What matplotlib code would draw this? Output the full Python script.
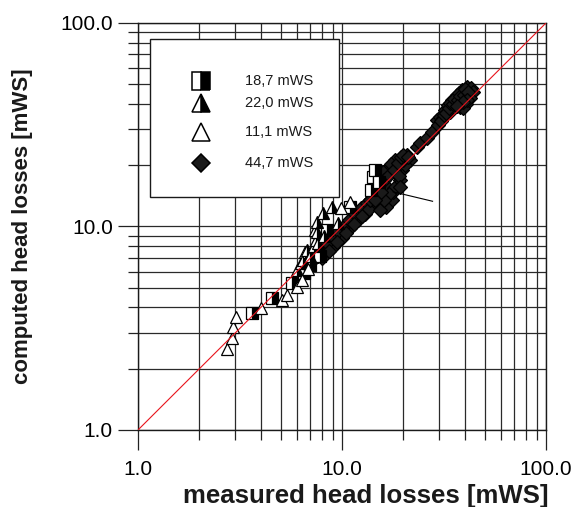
import numpy as np
import matplotlib
matplotlib.use('Agg')
import matplotlib.pyplot as plt
from matplotlib.ticker import FixedLocator, FixedFormatter, NullFormatter
from matplotlib.patches import Rectangle

plt.rcParams['font.family'] = ['Liberation Sans', 'DejaVu Sans']

# series: measured (x) vs computed (y) head losses [mWS]
sq_x = [3.62, 4.54, 5.69, 6.5, 7.0, 7.8, 8.4, 10.9, 13.9, 14.2, 14.5, 15.2]
sq_y = [3.76, 4.45, 5.28, 5.9, 6.5, 7.2, 9.6, 12.5, 15.1, 17.5, 18.9, 16.5]

tri_half_x = [6.0, 6.3, 6.6, 7.0, 7.3, 7.4, 7.5, 7.55, 8.1, 8.93, 8.2, 9.6,
              6.44, 6.7, 7.6, 7.55]
tri_half_y = [6.1, 6.6, 7.5, 7.2, 8.0, 9.6, 8.6, 10.5, 11.7, 12.5, 9.0, 10.4,
              6.85, 7.7, 8.3, 9.4]

tri_open_x = [2.73, 2.89, 2.92, 3.02, 4.01, 5.08, 5.37, 6.0, 6.35, 6.8, 10.9, 9.9]
tri_open_y = [2.50, 2.83, 3.21, 3.59, 3.98, 4.35, 4.6, 5.04, 5.45, 6.2, 13.2, 12.3]

dia_x = [6.6, 7.0, 7.3, 7.6, 7.9, 8.2, 8.5, 8.8, 9.1, 9.4, 9.7, 10.0,
         10.3, 10.6, 11.0, 11.4, 11.8, 12.2, 12.6, 13.0, 13.4, 13.8, 14.2, 14.6,
         8.0, 9.0, 10.0, 11.0, 12.0, 13.0,
         7.2, 7.8, 8.4, 9.0, 9.6, 10.2, 10.8, 11.6, 12.4, 13.2,
         8.6, 9.5, 10.5, 11.5, 12.5, 13.5, 14.5,
         15.3, 16.8, 18.2, 20.8, 16.2, 15.0, 17.6, 16.4, 15.3, 13.7, 19.2, 19.7,
         21.6, 20.3, 18.8, 17.8, 19.9,
         14.0, 14.8, 15.8, 16.0, 17.0, 17.3, 18.0, 18.8, 19.5, 20.0, 21.0, 19.0,
         18.0, 17.0, 16.0, 15.5, 14.5, 19.3,
         23.2, 24.1, 26.1, 27.6,
         29.2, 30.1, 32.0, 33.0, 34.5, 36.5, 38.8, 41.0, 42.9, 43.9, 42.4, 40.6,
         37.9, 35.8, 33.8, 31.2, 39.0,
         29.5, 30.5, 31.5, 32.5, 33.5, 34.0, 35.0, 35.5, 37.0, 37.5, 38.0, 39.5,
         40.0, 41.5, 41.0, 39.0, 36.5]
dia_y = [6.3, 6.6, 7.0, 7.2, 7.5, 7.8, 8.1, 8.3, 8.6, 8.9, 9.2, 9.5,
         9.8, 10.1, 10.5, 10.9, 11.4, 11.8, 12.2, 12.6, 13.2, 13.6, 14.2, 14.9,
         7.0, 7.9, 8.8, 9.8, 10.7, 11.5,
         7.1, 7.7, 8.3, 8.9, 9.5, 10.1, 10.7, 11.5, 12.3, 13.1,
         7.6, 8.4, 9.3, 10.3, 11.2, 12.2, 13.2,
         17.9, 19.4, 21.2, 22.4, 16.0, 14.3, 13.5, 12.5, 12.1, 13.5, 16.9, 18.9,
         21.2, 20.0, 16.0, 14.8, 21.2,
         15.5, 16.5, 18.5, 17.0, 18.0, 20.3, 19.0, 20.5, 22.0, 22.5, 22.0, 17.8,
         15.5, 14.5, 13.5, 14.8, 13.5, 15.6,
         24.6, 25.7, 27.3, 29.1,
         33.4, 34.5, 37.3, 39.4, 41.7, 44.2, 46.9, 48.4, 47.9, 45.8, 42.8, 39.9,
         38.6, 39.4, 36.4, 34.1, 38.2,
         31.5, 33.0, 35.5, 36.0, 38.0, 40.5, 40.0, 42.5, 42.0, 45.5, 44.0, 44.5,
         47.5, 46.0, 42.0, 41.0, 39.0]

leader_x = [17.8, 27.8]
leader_y = [14.8, 13.3]

labels = ['18,7 mWS', '22,0 mWS', '11,1 mWS', '44,7 mWS']
ticks = [1.0, 10.0, 100.0]
tick_labels = ['1.0', '10.0', '100.0']
minor = [m * d for d in (1, 10) for m in range(2, 10)]

fig = plt.figure(figsize=(5.79, 5.07), dpi=100)
ax = fig.add_axes([0.2383, 0.1519, 0.7047, 0.8028])
ax.set_xscale('log')
ax.set_yscale('log')
ax.set_xlim(1, 100)
ax.set_ylim(1, 100)

for axis in (ax.xaxis, ax.yaxis):
    axis.set_major_locator(FixedLocator(ticks))
    axis.set_major_formatter(FixedFormatter(tick_labels))
    axis.set_minor_locator(FixedLocator(minor))
    axis.set_minor_formatter(NullFormatter())

ax.grid(True, which='both', color='#2a2a2a', lw=0.9)
ax.set_axisbelow(True)
ax.tick_params(which='major', direction='out', length=14.5, width=0.9,
               labelsize=15, color='#222222', top=False, right=False)
ax.tick_params(which='minor', direction='out', length=7.2, width=0.9,
               color='#222222', top=False, right=False)
ax.tick_params(axis='y', which='major', pad=3.5)
ax.tick_params(axis='x', which='major', pad=7)
for s in ax.spines.values():
    s.set_linewidth(1.0)
    s.set_color('#1a1a1a')

kw = dict(linestyle='none', markeredgecolor='black', markeredgewidth=0.9)
ax.plot(dia_x, dia_y, marker='D', ms=7, color='#1a1a1a', **kw, zorder=3)
ax.plot(sq_x, sq_y, marker='s', ms=8.5, fillstyle='right', markerfacecolor='black',
        markerfacecoloralt='white', **kw, zorder=4)
ax.plot(tri_half_x, tri_half_y, marker='^', ms=9, fillstyle='right', markerfacecolor='black',
        markerfacecoloralt='white', **kw, zorder=4)
ax.plot(tri_open_x, tri_open_y, marker='^', ms=9, markerfacecolor='white', **kw, zorder=4)
ax.plot(leader_x, leader_y, color='black', lw=0.8, zorder=4)
ax.plot([1, 100], [1, 100], color='#e8141c', lw=0.8, zorder=5)

# legend box drawn by hand
ax.add_patch(Rectangle((0.029, 0.572), 0.464, 0.389, transform=ax.transAxes,
                       facecolor='white', edgecolor='#1a1a1a', lw=1.0, zorder=6))
leg_y = [0.857, 0.804, 0.732, 0.655]
styles = [dict(marker='s', ms=13, fillstyle='right', markerfacecolor='black', markerfacecoloralt='white'),
          dict(marker='^', ms=13, fillstyle='right', markerfacecolor='black', markerfacecoloralt='white'),
          dict(marker='^', ms=13, markerfacecolor='white'),
          dict(marker='D', ms=9, markerfacecolor='#1a1a1a')]
for yy, st, lab in zip(leg_y, styles, labels):
    ax.plot([0.154], [yy], transform=ax.transAxes, linestyle='none',
            markeredgecolor='black', markeredgewidth=1.1, zorder=7, clip_on=False, **st)
    ax.text(0.262, yy, lab, transform=ax.transAxes, fontsize=10.5,
            va='center', ha='left', color='#1a1a1a', zorder=7)

ax.set_xlabel('measured head losses [mWS]', fontsize=18.5, fontweight='bold', color='#1a1a1a')
ax.set_ylabel('computed head losses [mWS]', fontsize=16, fontweight='bold', color='#1a1a1a')
ax.xaxis.set_label_coords(0.559, -0.133)
ax.yaxis.set_label_coords(-0.257, 0.5)

fig.savefig('out.png', dpi=100)
